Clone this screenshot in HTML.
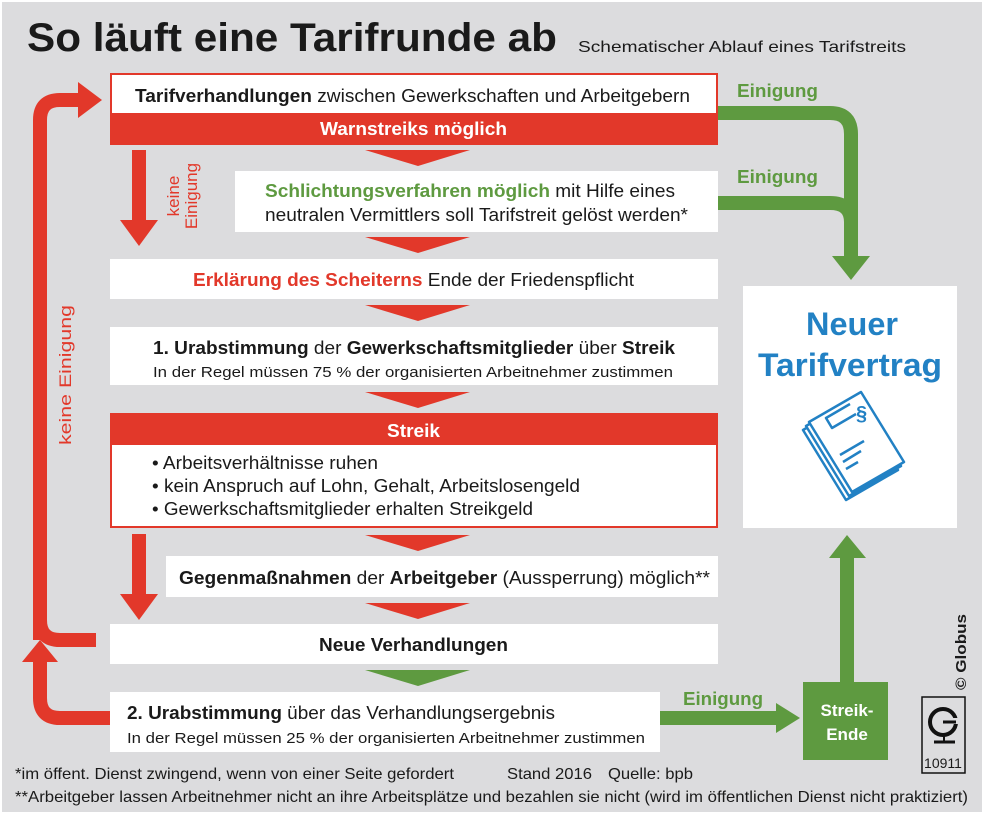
<!DOCTYPE html>
<html><head><meta charset="utf-8"><style>
html,body{margin:0;padding:0;background:#fff}
svg{display:block}
text{font-family:"Liberation Sans",Arial,sans-serif;fill:#1a1a1a}
.b{font-weight:bold}
</style></head><body>
<svg width="986" height="816" viewBox="0 0 986 816" xmlns="http://www.w3.org/2000/svg">
<rect x="2" y="2" width="980" height="810" fill="#dcdcde"/>
<text x="27" y="51" font-size="40" class="b" textLength="530" lengthAdjust="spacingAndGlyphs">So läuft eine Tarifrunde ab</text>
<text x="578" y="52" font-size="16" textLength="328" lengthAdjust="spacingAndGlyphs">Schematischer Ablauf eines Tarifstreits</text>

<g fill="none" stroke="#e2382a" stroke-width="14">
<path d="M40 640 V120 Q40 100 60 100 H80"/>
<path d="M96 640 H60 Q40 640 40 620"/>
<path d="M110 718 H60 Q40 718 40 698 V660"/>
</g>
<polygon points="78,82 102,100 78,118" fill="#e2382a"/>
<polygon points="22,662 40,640 58,662" fill="#e2382a"/>
<text transform="translate(71,375) rotate(-90)" font-size="17" text-anchor="middle" style="fill:#e2382a" textLength="140" lengthAdjust="spacingAndGlyphs">keine Einigung</text>

<rect x="132" y="150" width="14" height="72" fill="#e2382a"/>
<polygon points="120,220 158,220 139,246" fill="#e2382a"/>
<text transform="translate(179,196) rotate(-90)" font-size="17" text-anchor="middle" style="fill:#e2382a">keine</text>
<text transform="translate(197,196) rotate(-90)" font-size="17" text-anchor="middle" style="fill:#e2382a">Einigung</text>
<rect x="132" y="534" width="14" height="62" fill="#e2382a"/>
<polygon points="120,594 158,594 139,620" fill="#e2382a"/>

<g fill="none" stroke="#5e9a40" stroke-width="14">
<path d="M718 113 H830 Q851 113 851 134 V258"/>
<path d="M718 203 H830 Q851 203 851 222"/>
<path d="M660 718 H778"/>
<path d="M847 682 V558"/>
</g>
<polygon points="832,256 870,256 851,280" fill="#5e9a40"/>
<polygon points="776,703 800,718 776,733" fill="#5e9a40"/>
<polygon points="829,558 866,558 847,535" fill="#5e9a40"/>
<text x="737" y="97" font-size="18" class="b" style="fill:#5e9a40" textLength="81" lengthAdjust="spacingAndGlyphs">Einigung</text>
<text x="737" y="183" font-size="18" class="b" style="fill:#5e9a40" textLength="81" lengthAdjust="spacingAndGlyphs">Einigung</text>
<text x="683" y="705" font-size="18" class="b" style="fill:#5e9a40" textLength="80" lengthAdjust="spacingAndGlyphs">Einigung</text>

<g fill="#e2382a">
<polygon points="365,150 470,150 418,166"/>
<polygon points="365,237 470,237 418,253"/>
<polygon points="365,305 470,305 418,321"/>
<polygon points="365,392 470,392 418,408"/>
<polygon points="365,535 470,535 418,551"/>
<polygon points="365,603 470,603 418,619"/>
</g>
<polygon points="365,670 470,670 418,686" fill="#5e9a40"/>

<rect x="111" y="74" width="606" height="70" fill="#fff" stroke="#e2382a" stroke-width="2"/>
<rect x="110" y="113" width="608" height="32" fill="#e2382a"/>
<text x="135" y="102" font-size="18" textLength="555" lengthAdjust="spacingAndGlyphs"><tspan class="b">Tarifverhandlungen</tspan> zwischen Gewerkschaften und Arbeitgebern</text>
<text x="320" y="135" font-size="18" class="b" style="fill:#fff" textLength="187" lengthAdjust="spacingAndGlyphs">Warnstreiks möglich</text>

<rect x="235" y="171" width="483" height="61" fill="#fff"/>
<text x="265" y="197" font-size="18" textLength="410" lengthAdjust="spacingAndGlyphs"><tspan class="b" style="fill:#5e9a40">Schlichtungsverfahren möglich</tspan> mit Hilfe eines</text>
<text x="265" y="221" font-size="18" textLength="423" lengthAdjust="spacingAndGlyphs">neutralen Vermittlers soll Tarifstreit gelöst werden*</text>

<rect x="110" y="259" width="608" height="40" fill="#fff"/>
<text x="193" y="286" font-size="18" textLength="441" lengthAdjust="spacingAndGlyphs"><tspan class="b" style="fill:#e2382a">Erklärung des Scheiterns</tspan> Ende der Friedenspflicht</text>

<rect x="110" y="327" width="608" height="58" fill="#fff"/>
<text x="153" y="354" font-size="18" textLength="522" lengthAdjust="spacingAndGlyphs"><tspan class="b">1. Urabstimmung</tspan> der <tspan class="b">Gewerkschaftsmitglieder</tspan> über <tspan class="b">Streik</tspan></text>
<text x="153" y="377" font-size="15" textLength="520" lengthAdjust="spacingAndGlyphs">In der Regel müssen 75 % der organisierten Arbeitnehmer zustimmen</text>

<rect x="111" y="414" width="606" height="113" fill="#fff" stroke="#e2382a" stroke-width="2"/>
<rect x="110" y="413" width="608" height="32" fill="#e2382a"/>
<text x="387" y="437" font-size="18" class="b" style="fill:#fff" textLength="53" lengthAdjust="spacingAndGlyphs">Streik</text>
<text x="152" y="469" font-size="18" textLength="226" lengthAdjust="spacingAndGlyphs">• Arbeitsverhältnisse ruhen</text>
<text x="152" y="492" font-size="18" textLength="428" lengthAdjust="spacingAndGlyphs">• kein Anspruch auf Lohn, Gehalt, Arbeitslosengeld</text>
<text x="152" y="515" font-size="18" textLength="381" lengthAdjust="spacingAndGlyphs">• Gewerkschaftsmitglieder erhalten Streikgeld</text>

<rect x="166" y="556" width="552" height="41" fill="#fff"/>
<text x="179" y="584" font-size="18" textLength="531" lengthAdjust="spacingAndGlyphs"><tspan class="b">Gegenmaßnahmen</tspan> der <tspan class="b">Arbeitgeber</tspan> (Aussperrung)  möglich**</text>

<rect x="110" y="624" width="608" height="40" fill="#fff"/>
<text x="319" y="651" font-size="18" class="b" textLength="189" lengthAdjust="spacingAndGlyphs">Neue Verhandlungen</text>

<rect x="110" y="692" width="550" height="60" fill="#fff"/>
<text x="127" y="719" font-size="18" textLength="428" lengthAdjust="spacingAndGlyphs"><tspan class="b">2. Urabstimmung</tspan> über das Verhandlungsergebnis</text>
<text x="127" y="743" font-size="15" textLength="518" lengthAdjust="spacingAndGlyphs">In der Regel müssen 25 % der organisierten Arbeitnehmer zustimmen</text>

<rect x="803" y="682" width="85" height="78" fill="#5e9a40"/>
<text x="847" y="716" font-size="17" class="b" text-anchor="middle" style="fill:#fff">Streik-</text>
<text x="847" y="740" font-size="17" class="b" text-anchor="middle" style="fill:#fff">Ende</text>

<rect x="743" y="286" width="214" height="242" fill="#fff"/>
<text x="852" y="335" font-size="32" class="b" text-anchor="middle" style="fill:#2281c4" textLength="92" lengthAdjust="spacingAndGlyphs">Neuer</text>
<text x="850" y="376" font-size="32" class="b" text-anchor="middle" style="fill:#2281c4" textLength="184" lengthAdjust="spacingAndGlyphs">Tarifvertrag</text>
<g fill="#fff" stroke="#2281c4" stroke-width="2.5" stroke-linejoin="round">
<polygon points="803,430 855,400 898,470 846,500"/>
<polygon points="806,426 858,396 901,466 849,496"/>
<polygon points="809,422 861,392 904,462 852,492"/>
<polyline points="850,404 826,418 832,428 856,414" fill="none"/>
<line x1="840" y1="455" x2="864" y2="441"/>
<line x1="843" y1="462" x2="861" y2="451"/>
<line x1="846" y1="469" x2="858" y2="462"/>
</g>
<text x="856" y="420" font-size="20" class="b" style="fill:#2281c4">§</text>

<text transform="translate(966,690) rotate(-90)" font-size="15" class="b" textLength="76" lengthAdjust="spacingAndGlyphs">© Globus</text>
<rect x="922" y="697" width="43" height="76" fill="none" stroke="#111" stroke-width="1.5"/>
<circle cx="943" cy="722" r="13" fill="none" stroke="#111" stroke-width="4"/>
<rect x="944" y="718" width="16" height="6" fill="#dcdcde"/>
<line x1="943" y1="722" x2="956" y2="722" stroke="#111" stroke-width="3"/>
<line x1="934" y1="742" x2="955" y2="742" stroke="#111" stroke-width="3"/>
<line x1="944" y1="735" x2="944" y2="742" stroke="#111" stroke-width="2"/>
<text x="943" y="768" font-size="14" text-anchor="middle">10911</text>

<text x="15" y="779" font-size="16" textLength="439" lengthAdjust="spacingAndGlyphs">*im öffent. Dienst zwingend, wenn von einer Seite gefordert</text>
<text x="507" y="779" font-size="16" textLength="85" lengthAdjust="spacingAndGlyphs">Stand 2016</text>
<text x="608" y="779" font-size="16" textLength="85" lengthAdjust="spacingAndGlyphs">Quelle: bpb</text>
<text x="15" y="802" font-size="16" textLength="953" lengthAdjust="spacingAndGlyphs">**Arbeitgeber lassen Arbeitnehmer nicht an ihre Arbeitsplätze und bezahlen sie nicht (wird im öffentlichen Dienst nicht praktiziert)</text>
</svg>
</body></html>
